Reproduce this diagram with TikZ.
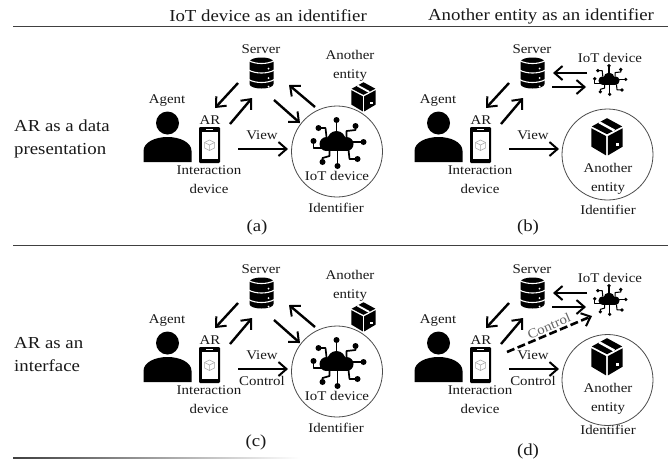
\documentclass[tikz,border=0pt]{standalone}
\usepackage{fontspec}
\setmainfont[FakeStretch=1.12]{Liberation Serif}
\usetikzlibrary{arrows.meta}
\tikzset{
 lbl/.style={font=\fontsize{13.3}{15}\selectfont,text=black!90,inner sep=0pt,align=center},
 big/.style={font=\fontsize{16.8}{19}\selectfont,text=black!90,inner sep=0pt,align=left},
 side/.style={big,anchor=west},
 arr/.style={line width=2.4pt,-{Straight Barb[length=8pt,width=14pt,line width=2pt]}},
 dasharr/.style={arr,line width=2.6pt,dash pattern=on 8pt off 3.5pt},
 port/.style={inner sep=0pt,minimum size=0pt,outer sep=0pt},
 ring/.style={draw=black!70,line width=.8pt,circle,minimum size=91pt,inner sep=0pt},
 rule/.style={line width=.7pt,draw=black!75},
}
% icons: #1 = x, #2 = y
\newcommand{\agenticon}[2]{\begin{scope}[shift={(#1,#2)}]
 \fill (0,0) circle (11.5);
 \fill (-24,39) -- (-24,28) .. controls (-24,19) and (-12,14) .. (0,14) .. controls (12,14) and (24,19) .. (24,28) -- (24,39) -- cycle;
\end{scope}}
\newcommand{\phoneicon}[2]{\begin{scope}[shift={(#1,#2)}]
 \fill[rounded corners=1.2pt] (-10.5,-18) rectangle (10.5,18);
 \fill[white] (-8,-13) rectangle (8,14);
 \fill[white] (-3.5,-16.4) rectangle (3.5,-14.6);
 \begin{scope}[black!35,line width=.5pt]
 \draw (0,-5) -- (5,-2.5) -- (5,3) -- (0,5.5) -- (-5,3) -- (-5,-2.5) -- cycle;
 \draw (-5,-2.5) -- (0,0) -- (5,-2.5) (0,0) -- (0,5.5);
 \end{scope}
\end{scope}}
\newcommand{\servericon}[2]{\begin{scope}[shift={(#1,#2)}]
 \fill (-12,-11) .. controls (-12,-17) and (12,-17) .. (12,-11) -- (12,11) .. controls (12,17) and (-12,17) .. (-12,11) -- cycle;
 \foreach \yy in {-10.5,-1,8.5} {
  \draw[white,line width=1.1pt] (-13,\yy-2) .. controls (-6,\yy+2) and (6,\yy+2) .. (13,\yy-2);
 }
 \foreach \yy in {-4,5.5,14} \fill[white] (7,\yy-.5) circle (1);
\end{scope}}
\newcommand{\cloudicon}[3]{\begin{scope}[shift={(#1,#2)},scale=#3]
 \fill (-10,1) circle (7) (0,-3) circle (9) (10,1) circle (7);
 \fill (-10,0) rectangle (10,8);
 \begin{scope}[line width=#3*1.7pt,line join=round]
 \draw (0,-8) -- (0,-23);
 \draw (-10,-6) -- (-11,-15) -- (-18,-15);
 \draw (-15,5) -- (-23,5) -- (-23,-2);
 \draw (-7,7) -- (-7,13) -- (-14,15) -- (-14,19);
 \draw (1,7) -- (1,23);
 \draw (12,7) -- (13,16) -- (21,16);
 \draw (15,-1) -- (27,-1);
 \draw (10,-6) -- (10,-12) -- (19,-13) -- (19,-17);
 \end{scope}
 \foreach \px/\py in {0/-23,-18/-15,-23/-2,-14/19,1/23,21/16,27/-1,19/-17} \fill (\px,\py) circle (3);
\end{scope}}
\newcommand{\boxicon}[3]{\begin{scope}[shift={(#1,#2)},scale=#3]
 \fill (-1,-1) -- (-1,20) -- (-17,10.5) -- (-17,-9.5) -- cycle;
 \fill (1,-1) -- (1,20) -- (17,10.5) -- (17,-9.5) -- cycle;
 \fill (-16.5,-11.5) -- (0,-20.5) -- (16.5,-11.5) -- (0,-3) -- cycle;
 \draw[white,line width=#3*2.6pt] (-8.5,-16) -- (8,-7);
 \fill[white] (9.5,6.5) rectangle (13,10);
\end{scope}}
% shared part of a panel; #1 prefix, #2 dx, #3 dy
\newcommand{\panelleft}[3]{\begin{scope}[shift={(#2,#3)}]
 \agenticon{167.5}{123}
 \phoneicon{209.5}{145}
 \node[lbl] (#1-srvt) at (261,49) {Server};
 \node[lbl] (#1-agt) at (167,101) {Agent};
 \node[lbl] (#1-art) at (210,120) {AR};
 \node[lbl] (#1-int) at (209,180) {Interaction\\[4pt]device};
 \node[lbl] (#1-view) at (262,135) {View};
 \node[port] (#1-pa) at (215,108) {};
 \node[port] (#1-pb) at (230,124) {};
 \node[port] (#1-pc) at (238,83) {};
 \node[port] (#1-pd) at (252,98) {};
 \node[port] (#1-pe) at (238,149) {};
 \node[port] (#1-pf) at (288,149) {};
 \draw[arr] (#1-pc) -- (#1-pa);
 \draw[arr] (#1-pb) -- (#1-pd);
 \draw[arr] (#1-pe) -- (#1-pf);
\end{scope}}
% left column: IoT device as the identifier
\newcommand{\paneliot}[3]{\begin{scope}[shift={(#2,#3)}]
 \servericon{261.5}{73}
 \node[ring] (#1-ring) at (337,151.5) {};
 \cloudicon{336.5}{143}{1}
 \boxicon{363.5}{97}{.72}
 \node[lbl] (#1-iot) at (337,176) {IoT device};
 \node[lbl] (#1-idn) at (336,208) {Identifier};
 \node[lbl] (#1-ent) at (350,66) {Another\\[4pt]entity};
 \node[port] (#1-qa) at (274,100) {};
 \node[port] (#1-qb) at (300,123) {};
 \node[port] (#1-qc) at (315,107) {};
 \node[port] (#1-qd) at (289,85) {};
 \draw[arr] (#1-qa) -- (#1-qb);
 \draw[arr] (#1-qc) -- (#1-qd);
\end{scope}}
% right column: another entity as the identifier; #4 = ring centre y
\newcommand{\panelent}[4]{\begin{scope}[shift={(#2,#3)}]
 \servericon{261.5}{73}
 \node[ring] (#1-ring) at (336.5,#4) {};
 \boxicon{336}{137}{.92}
 \cloudicon{338}{80}{.62}
 \node[lbl] (#1-iot) at (339,58) {IoT device};
 \node[lbl] (#1-idn) at (337,210) {Identifier};
 \node[lbl] (#1-ent) at (337,179) {Another\\[4pt]entity};
 \node[port] (#1-qa) at (316,73) {};
 \node[port] (#1-qb) at (282,73) {};
 \node[port] (#1-qc) at (281,87) {};
 \node[port] (#1-qd) at (315,87) {};
 \draw[arr] (#1-qa) -- (#1-qb);
 \draw[arr] (#1-qc) -- (#1-qd);
\end{scope}}
\begin{document}
\begin{tikzpicture}[x=1pt,y=-1pt]
\useasboundingbox (0,0) rectangle (668,459);
\fill[white] (0,0) rectangle (668,459);
\node[big] (h1) at (268,16) {IoT device as an identifier};
\node[big] (h2) at (541,16) {Another entity as an identifier};
\node[port] (r1a) at (13,26.5) {}; \node[port] (r1b) at (668,26.5) {};
\node[port] (r2a) at (13,245) {}; \node[port] (r2b) at (668,245) {};
\draw[rule] (r1a) -- (r1b);
\draw[rule] (r2a) -- (r2b);
\shade[left color=black!75,right color=white] (13,457.6) rectangle (300,458.6);
\node[side] (s1) at (14,138.5) {AR as a data\\[4pt]presentation};
\node[side] (s2) at (14,354.5) {AR as an\\[4pt]interface};
\panelleft{a}{0}{0}\paneliot{a}{0}{0}
\panelleft{b}{271}{0}\panelent{b}{271}{0}{154.5}
\panelleft{c}{0}{220}\paneliot{c}{0}{220}
\panelleft{d}{271}{220}\panelent{d}{271}{220}{160}
\node[big] (ca) at (257,227) {(a)};
\node[big] (cb) at (528,227) {(b)};
\node[big] (cc) at (256,442) {(c)};
\node[big] (cd) at (528,451) {(d)};
\node[lbl] (ctlc) at (262,381) {Control};
\node[lbl] (ctld) at (533,381) {Control};
\node[port] (da) at (507,352) {};
\node[port] (db) at (592,316) {};
\draw[dasharr] (da) -- (db);
\node[lbl,text=black!60,rotate=23] (ctlr) at (549,326) {Control};
\end{tikzpicture}
\end{document}
